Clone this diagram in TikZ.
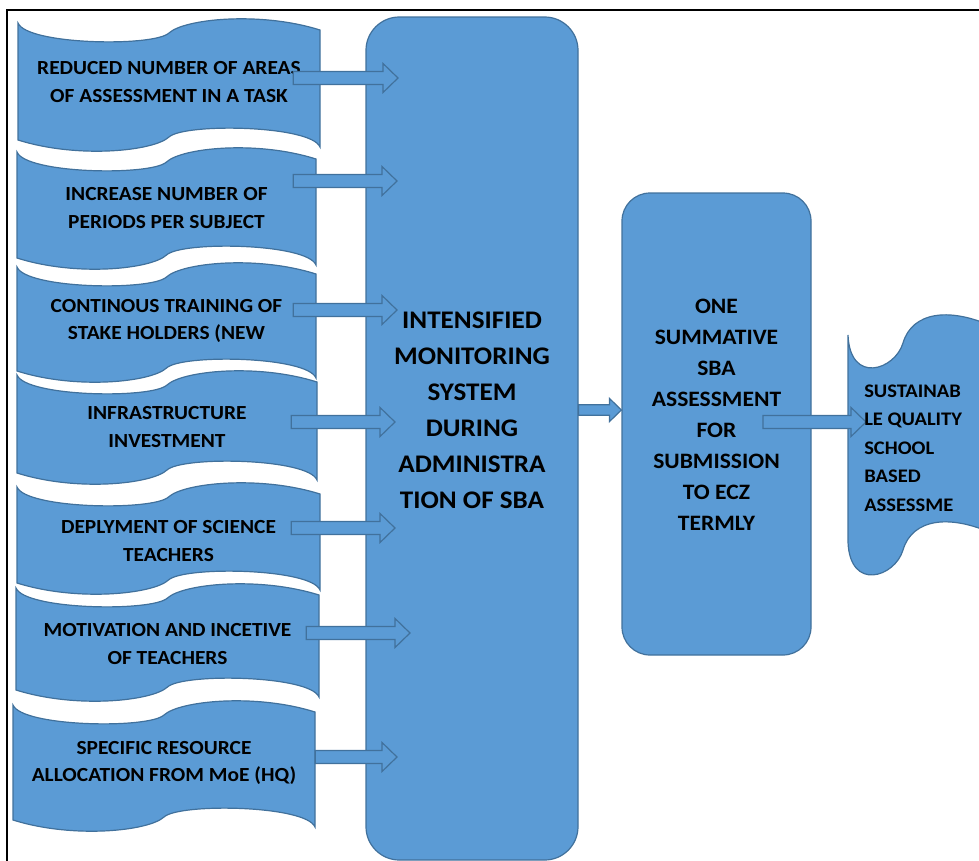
\documentclass[tikz,border=0pt]{standalone}
\usepackage{fontspec}
\setmainfont{Carlito}[FakeStretch=1.07]
\usetikzlibrary{calc,positioning}
\definecolor{wordblue}{HTML}{5B9BD5}
\definecolor{wordedge}{HTML}{41719C}
\tikzset{wave/.style={
            draw=wordedge,
            fill=wordblue,
            line width=0.9pt
        },
        roundbox/.style={
            draw=wordedge,
            fill=wordblue,
            line width=0.9pt,
            rounded corners=25pt,
            inner sep=0pt
        },
        blockarrow/.style={
            draw=wordedge,
            fill=wordblue,
            line width=0.9pt,
            line join=miter
        },
        wavetext/.style={
            font=\bfseries\fontsize{15}{20.5}\selectfont,
            align=center,
            inner sep=0pt
        },
        bigtext/.style={
            font=\bfseries\fontsize{19}{27}\selectfont,
            align=center,
            inner sep=0pt
        },
        sbatext/.style={
            font=\bfseries\fontsize{16.5}{23.2}\selectfont,
            align=center,
            inner sep=0pt
        },
        sustext/.style={
            font=\bfseries\fontsize{14.4}{21.4}\selectfont,
            align=left,
            inner sep=0pt
        },
        frameline/.style={
            black,
            line width=1.1pt
        }
    }
% wave shaped box: left, top, right, bottom, amplitude
\newcommand{\wavebox}[5]{%
  \draw[wave] (#1,#2)
    .. controls ({#1+0.03*(#3-#1)},{#2+2.2*#5}) and ({#1+0.45*(#3-#1)},{#2+2.4*#5})
    .. ({#1+0.5*(#3-#1)},{#2+#5})
    .. controls ({#1+0.55*(#3-#1)},{#2-0.4*#5}) and ({#1+0.8*(#3-#1)},{#2-1.2*#5})
    .. (#3,{#2+0.7*#5}) -- (#3,#4)
    .. controls ({#3-0.03*(#3-#1)},{#4-2.2*#5}) and ({#3-0.45*(#3-#1)},{#4-2.4*#5})
    .. ({#3-0.5*(#3-#1)},{#4-#5})
    .. controls ({#3-0.55*(#3-#1)},{#4+0.4*#5}) and ({#3-0.8*(#3-#1)},{#4+1.2*#5})
    .. (#1,{#4-0.7*#5}) -- cycle;}
% block arrow: start, tip, size factor
\newcommand{\blockarrow}[3]{%
  \draw[blockarrow] let \p1=#1, \p2=#2 in
    (\x1,{\y2+4.9pt*#3}) -- ({\x2-11.25pt*#3},{\y2+4.9pt*#3})
    -- ({\x2-11.25pt*#3},{\y2+10.9pt*#3}) -- (\x2,\y2)
    -- ({\x2-11.25pt*#3},{\y2-10.9pt*#3}) -- ({\x2-11.25pt*#3},{\y2-4.9pt*#3})
    -- (\x1,{\y2-4.9pt*#3}) -- cycle;}

\begin{document}
\begin{tikzpicture}[x=0.75pt,y=-0.75pt]
    \useasboundingbox (0,0) rectangle (979,861);
    \clip (0,0) rectangle (979,861);
    \draw[frameline] (979,10) -- (7,10) -- (7,861);

    % measures feeding the monitoring system
    \wavebox{18}{23}{320}{147}{10}
    \wavebox{17}{152}{316}{265}{10}
    \wavebox{17}{267}{316}{378}{10}
    \wavebox{17}{375}{317}{480}{10}
    \wavebox{17}{487}{320}{590}{10}
    \wavebox{16}{588}{319}{697}{10}
    \wavebox{13}{705}{315}{827}{10}

    \node[roundbox, minimum width={212*0.75pt}, minimum height={843*0.75pt}] (mon) at (472,438.5) {};
    \node[roundbox, rounded corners=21pt, minimum width={189*0.75pt}, minimum height={462*0.75pt}] (sba) at (716.5,424) {};
    \draw[wave] (848,335) .. controls (850,385) and (895,370) .. (903,343)
        .. controls (912,312) and (950,305) .. (1000,330) -- (1000,537)
        .. controls (950,512) and (912,519) .. (903,550)
        .. controls (895,577) and (850,592) .. (848,542) -- cycle;

    \node[wavetext, minimum width={302*0.75pt}] (r1) at (169,82) {REDUCED NUMBER OF AREAS\\OF ASSESSMENT IN A TASK};
    \node[wavetext, minimum width={299*0.75pt}] (r2) at (166.5,208) {INCREASE NUMBER OF\\PERIODS PER SUBJECT};
    \node[wavetext, minimum width={299*0.75pt}] (r3) at (166.5,321) {CONTINOUS TRAINING OF\\STAKE HOLDERS (NEW};
    \node[wavetext, minimum width={300*0.75pt}] (r4) at (167,427) {INFRASTRUCTURE\\INVESTMENT};
    \node[wavetext, minimum width={303*0.75pt}] (r5) at (168.5,541) {DEPLYMENT OF SCIENCE\\TEACHERS};
    \node[wavetext, minimum width={303*0.75pt}] (r6) at (167.5,644) {MOTIVATION AND INCETIVE\\OF TEACHERS};
    \node[wavetext, minimum width={302*0.75pt}] (r7) at (164,763) {SPECIFIC RESOURCE\\ALLOCATION FROM MoE (HQ)};

    \node[bigtext] (montxt) at (472,410) {INTENSIFIED\\MONITORING\\SYSTEM\\DURING\\ADMINISTRA\\TION OF SBA};
    \node[sbatext] (sbatxt) at (716.5,415) {ONE\\SUMMATIVE\\SBA\\ASSESSMENT\\FOR\\SUBMISSION\\TO ECZ\\TERMLY};

    % arrows into the monitoring system
    \foreach \i/\ty/\tx/\off in {1/78/398/27, 2/181/397/23, 3/310/397/23, 4/422/395/26,
                                 5/528/395/29, 6/633/410/13, 7/757/397/0} {
        \coordinate (t\i) at (\tx,\ty);
        \blockarrow{($(r\i.east |- t\i)+(-\off,0)$)}{(t\i)}{1}
    }
    \blockarrow{(mon.east |- montxt)}{(sba.west |- montxt)}{0.8}
    \coordinate (t9) at (866,422);
    \blockarrow{($(sba.center |- t9)+(46.5,0)$)}{(t9)}{1}

    \node[sustext, anchor=west] (sustxt) at (864,448) {SUSTAINAB\\LE QUALITY\\SCHOOL\\BASED\\ASSESSME};
\end{tikzpicture}
\end{document}
